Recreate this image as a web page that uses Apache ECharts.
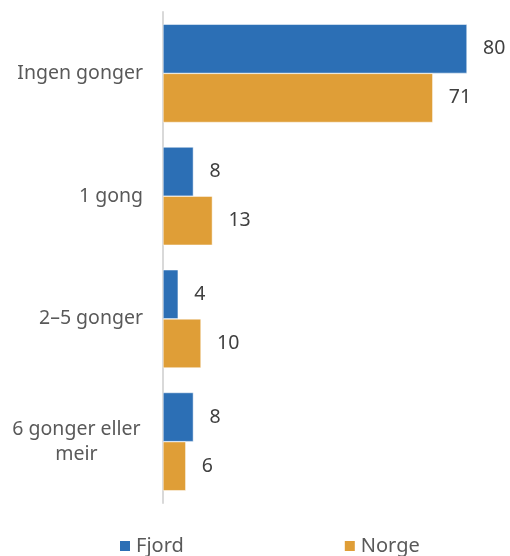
<!DOCTYPE html>
<html><head><meta charset="utf-8">
<script src="https://cdn.jsdelivr.net/npm/echarts@6/dist/echarts.min.js"></script>
<style>html,body{margin:0;padding:0;background:#fff}#c{width:510px;height:556px}</style>
</head><body><div id="c"></div>
<script>
const categories = ['Ingen gonger', '1 gong', '2–5 gonger', '6 gonger eller meir'];
const fjord = [80, 8, 4, 8];
const norge = [71, 13, 10, 6];
const seriesNames = ['Fjord', 'Norge'];

const font = 'Noto Sans';
const chart = echarts.init(document.getElementById('c'));
chart.setOption({
  animation: false,
  legend: {
    top: 531, left: 113, itemWidth: 12, itemHeight: 12, itemGap: 159,
    icon: 'rect',
    textStyle: { fontFamily: font, fontSize: 20, color: '#595959' },
    data: seriesNames
  },
  grid: { left: 163, right: 43, top: 12, bottom: 53 },
  xAxis: { type: 'value', min: 0, max: 80, show: false },
  yAxis: {
    type: 'category', inverse: true, data: categories,
    axisLine: { show: true, lineStyle: { color: '#d9d9d9', width: 2 } },
    axisTick: { show: false },
    axisLabel: {
      margin: 20, color: '#595959', fontFamily: font, fontSize: 19.5, lineHeight: 25,
      formatter: function (v) {
        if (v === '6 gonger eller meir') return '{c|6 gonger eller}\n{c|meir}';
        return v;
      },
      rich: { c: { width: 133, align: 'center', fontFamily: font, fontSize: 19.5, color: '#595959', lineHeight: 25 } }
    }
  },
  series: [
    { name: seriesNames[0], type: 'bar', data: fjord, barCategoryGap: '20%', barGap: '0%',
      itemStyle: { color: '#2C6FB5', borderColor: '#ffffff', borderWidth: 0.5 },
      label: { show: true, position: 'right', distance: 16, color: '#404040', fontFamily: font, fontSize: 19.5 } },
    { name: seriesNames[1], type: 'bar', data: norge,
      itemStyle: { color: '#DF9E37', borderColor: '#ffffff', borderWidth: 0.5 },
      label: { show: true, position: 'right', distance: 16, color: '#404040', fontFamily: font, fontSize: 19.5 } }
  ]
});
</script></body></html>
